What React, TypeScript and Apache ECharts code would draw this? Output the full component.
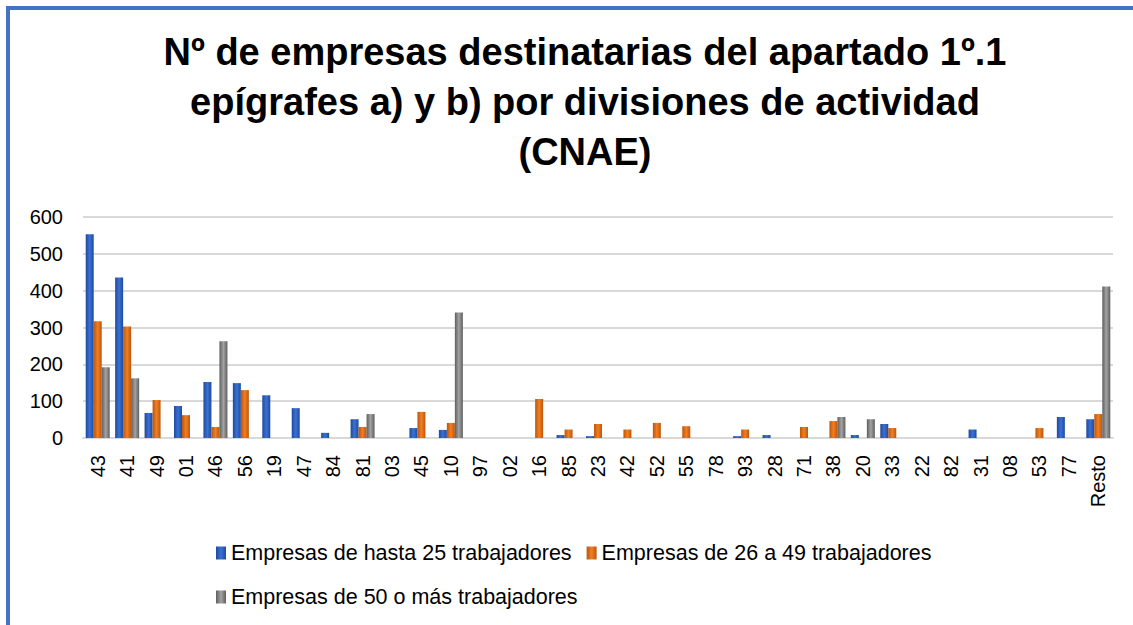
import React, { useEffect, useRef } from "react";
import * as echarts from "echarts";

const categories = ["43","41","49","01","46","56","19","47","84","81","03","45","10","97","02","16","85","23","42","52","55","78","93","28","71","38","20","33","22","82","31","08","53","77","Resto"];
const hasta25 = [553,436,68,87,152,149,116,81,14,51,0,27,22,0,0,0,8,5,0,0,0,0,5,8,0,0,8,38,0,0,23,0,0,57,51];
const de26a49 = [317,303,103,62,30,130,0,0,0,30,0,71,41,0,0,106,23,38,23,41,32,0,23,0,30,46,0,27,0,0,0,0,27,0,65];
const mas50 = [192,162,0,0,263,0,0,0,0,65,0,0,341,0,0,0,0,0,0,0,0,0,0,0,0,57,51,0,0,0,0,0,0,0,411];
const seriesNames = ["Empresas de hasta 25 trabajadores","Empresas de 26 a 49 trabajadores","Empresas de 50 o más trabajadores"];
const yTicks = { min: 0, max: 600, interval: 100 };

const grad = (a: string, b: string) => new echarts.graphic.LinearGradient(0, 0, 1, 0, [
  { offset: 0, color: a }, { offset: 0.5, color: b }, { offset: 1, color: a },
]);

export default function App() {
  const ref = useRef<HTMLDivElement>(null);
  useEffect(() => {
    document.body.style.margin = "0";
    const chart = echarts.init(ref.current!, null, { renderer: "svg" });
    const font = "Liberation Sans";
    const mk = (name: string, data: number[], c1: string, c2: string) => ({
      name, type: "bar", data, barWidth: 8, barGap: "0%",
      itemStyle: { color: grad(c1, c2) },
    });
    chart.setOption({
      animation: false,
      backgroundColor: "#fff",
      title: {
        text: "Nº de empresas destinatarias del apartado 1º.1\nepígrafes a) y b) por divisiones de actividad\n(CNAE)",
        left: 580, top: 22, textAlign: "center",
        textStyle: { fontFamily: font, fontWeight: "bold", fontSize: 38, lineHeight: 50, color: "#000" },
      },
      graphic: [
        { type: "rect", shape: { x: 6, y: 6, width: 4, height: 619 }, style: { fill: "#4472C4" } },
        { type: "rect", shape: { x: 6, y: 6, width: 1127, height: 4 }, style: { fill: "#4472C4" } },
      ],
      legend: [
        { data: [seriesNames[0], seriesNames[1]], left: 211, top: 537, itemWidth: 10, itemHeight: 13, itemGap: 15, icon: "rect",
          textStyle: { fontFamily: font, fontSize: 21.5, color: "#000" } },
        { data: [seriesNames[2]], left: 211, top: 581, itemWidth: 10, itemHeight: 13, icon: "rect",
          textStyle: { fontFamily: font, fontSize: 21.5, color: "#000" } },
      ],
      grid: { left: 83, right: 20, top: 217, bottom: 187, containLabel: false },
      xAxis: {
        type: "category", data: categories,
        axisLine: { show: true, lineStyle: { color: "#d9d9d9", width: 2 } },
        axisTick: { show: false },
        axisLabel: { interval: 0, rotate: 90, margin: 17, fontFamily: font, fontSize: 20, color: "#000" },
      },
      yAxis: {
        type: "value", min: yTicks.min, max: yTicks.max, interval: yTicks.interval,
        axisLine: { show: false }, axisTick: { show: false },
        splitLine: { lineStyle: { color: "#d9d9d9", width: 2 } },
        axisLabel: { margin: 20, fontFamily: font, fontSize: 20, color: "#000" },
      },
      series: [
        mk(seriesNames[0], hasta25, "#1F4A99", "#3A70D6"),
        mk(seriesNames[1], de26a49, "#B9560E", "#F27E22"),
        mk(seriesNames[2], mas50, "#5E5E5E", "#A3A3A3"),
      ],
    });
    return () => chart.dispose();
  }, []);
  return <div ref={ref} style={{ width: 1133, height: 625 }} />;
}
